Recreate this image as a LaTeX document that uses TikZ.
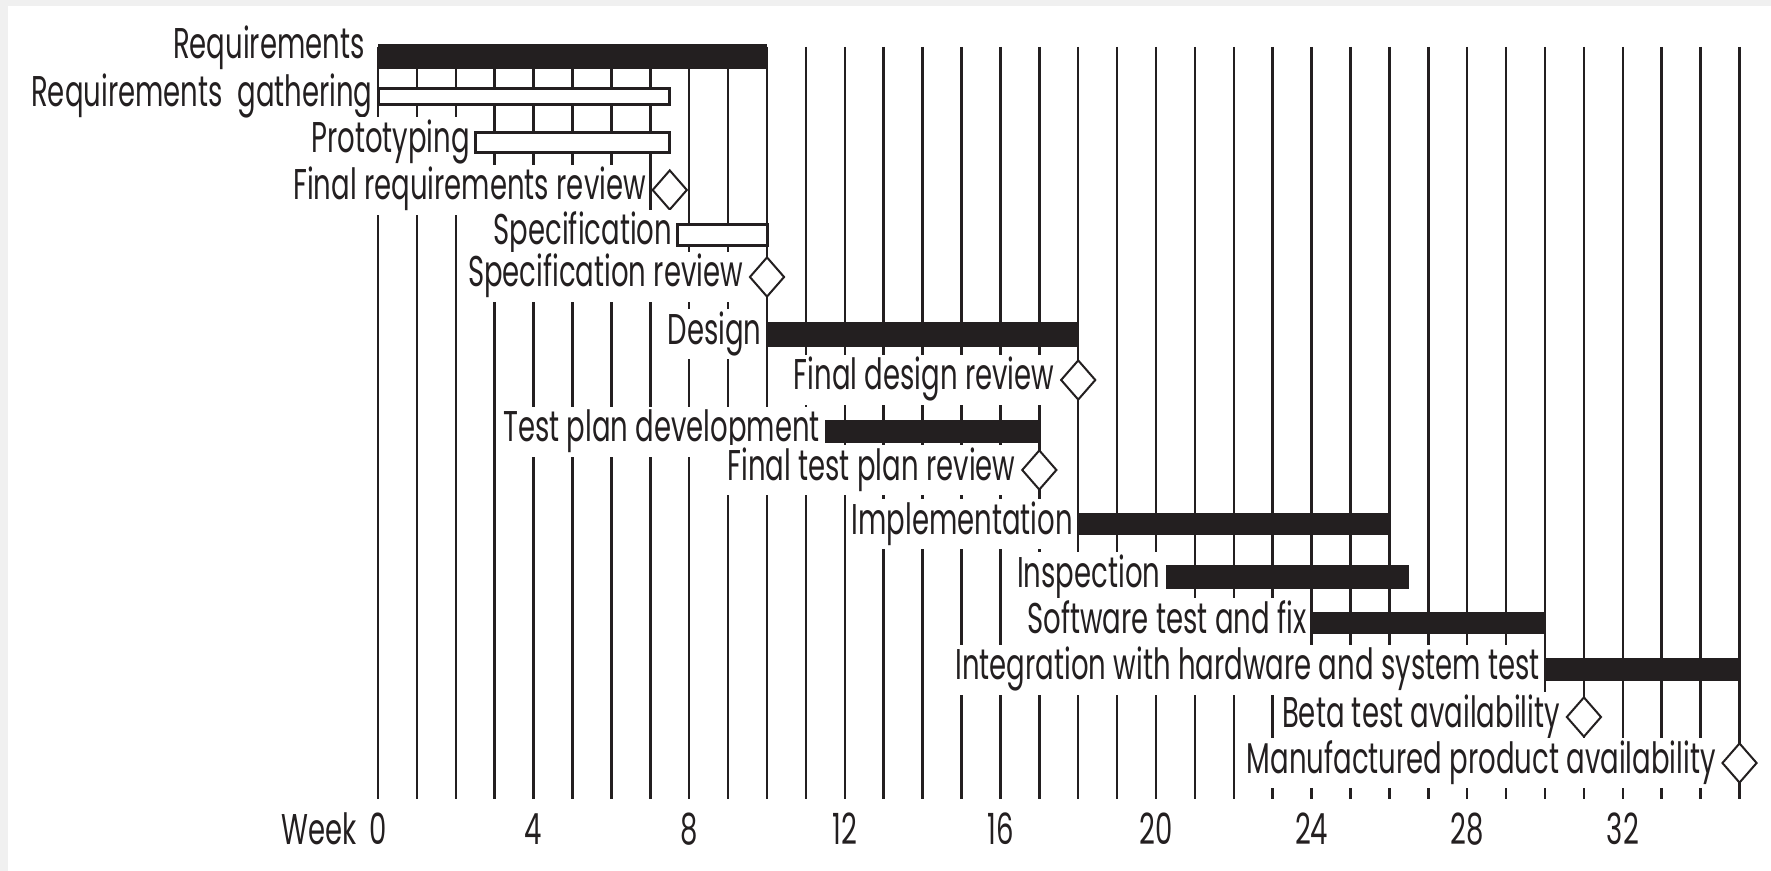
\documentclass[tikz,border=0pt]{standalone}
\usepackage{fontspec}
\setmainfont{Poppins}[FakeStretch=0.64]
\usetikzlibrary{shapes.geometric,positioning}
\definecolor{ink}{RGB}{35,31,32}

\begin{document}
\begin{tikzpicture}[x=0.5pt,y=-0.5pt,
    every node/.style={font=\fontsize{21.5}{24}\selectfont,text=ink},
    gridline/.style={draw=ink,line width=1.25pt},
    fullbar/.style={fill=ink},
    openbar/.style={draw=ink,fill=white,line width=1.5pt},
    milestone/.style={diamond,draw=ink,fill=white,line width=1pt,
      inner sep=0pt,minimum width=17.5pt,minimum height=20pt},
    tasklabel/.style={fill=white,inner xsep=0.5pt,inner ysep=4pt,
      text height=13.5pt,text depth=3.5pt},
    weeknum/.style={anchor=base,inner sep=1pt,text height=15pt,text depth=0pt}
  ]
  \useasboundingbox (0,0) rectangle (1771,871);
  \fill[black!6] (0,0) rectangle (1771,871);
  \fill[white] (8,6) rectangle (1771,871);

  \begin{scope}[xshift=189pt,x=19.45pt]
    % one line per week
    \foreach \w in {0,...,35} \draw[gridline] (\w,47) -- (\w,799);

    % requirements phase
    \fill[fullbar] (0,44) rectangle (10,69); \coordinate (req) at (0,56.5);
    \node[tasklabel,left=6pt of req,yshift=4pt] (lreq) {Requirements};
    \draw[openbar] (0,88.5) rectangle (7.5,104.5); \coordinate (gath) at (0,96.5);
    \node[tasklabel,left=2pt of gath] (lgath) {Requirements~ gathering};
    \draw[openbar] (2.5,132.5) rectangle (7.5,152.5); \coordinate (proto) at (2.5,142.5);
    \node[tasklabel,left=2pt of proto] (lproto) {Prototyping};
    \node[milestone] (frr) at (7.5,190) {};
    \node[tasklabel,left=2pt of frr] (lfrr) {Final requirements review};

    % specification
    \draw[openbar] (7.7,224.5) rectangle (10,245.5); \coordinate (spec) at (7.7,235);
    \node[tasklabel,left=2pt of spec] (lspec) {Specification};
    \node[milestone] (sr) at (10,277) {};
    \node[tasklabel,left=2pt of sr] (lsr) {Specification review};

    % design and test plan
    \fill[fullbar] (10,322) rectangle (18,347); \coordinate (des) at (10,334.5);
    \node[tasklabel,left=2pt of des] (ldes) {Design};
    \node[milestone] (fdr) at (18,380) {};
    \node[tasklabel,left=2pt of fdr] (lfdr) {Final design review};
    \fill[fullbar] (11.5,420) rectangle (17,443); \coordinate (tpd) at (11.5,431.5);
    \node[tasklabel,left=2pt of tpd] (ltpd) {Test plan development};
    \node[milestone] (ftr) at (17,470) {};
    \node[tasklabel,left=2pt of ftr] (lftr) {Final test plan review};

    % implementation and test
    \fill[fullbar] (18,513) rectangle (26,535); \coordinate (impl) at (18,524);
    \node[tasklabel,left=2pt of impl] (limpl) {Implementation};
    \fill[fullbar] (20.25,565) rectangle (26.5,589); \coordinate (insp) at (20.25,577);
    \node[tasklabel,left=2pt of insp] (linsp) {Inspection};
    \fill[fullbar] (24,612) rectangle (30,634); \coordinate (stf) at (24,623);
    \node[tasklabel,left=2pt of stf] (lstf) {Software test and fix};
    \fill[fullbar] (30,658) rectangle (35,681); \coordinate (integ) at (30,669.5);
    \node[tasklabel,left=2pt of integ] (linteg) {Integration with hardware and system test};
    \node[milestone] (bta) at (31,717) {};
    \node[tasklabel,left=2pt of bta] (lbta) {Beta test availability};
    \node[milestone] (mpa) at (35,763) {};
    \node[tasklabel,left=2pt of mpa] (lmpa) {Manufactured product availability};

    % week axis
    \foreach \w in {0,4,...,32} \node[weeknum] (n\w) at (\w,844) {\w};
    \node[weeknum,left=4pt of n0] (week) {Week};
  \end{scope}
\end{tikzpicture}
\end{document}
